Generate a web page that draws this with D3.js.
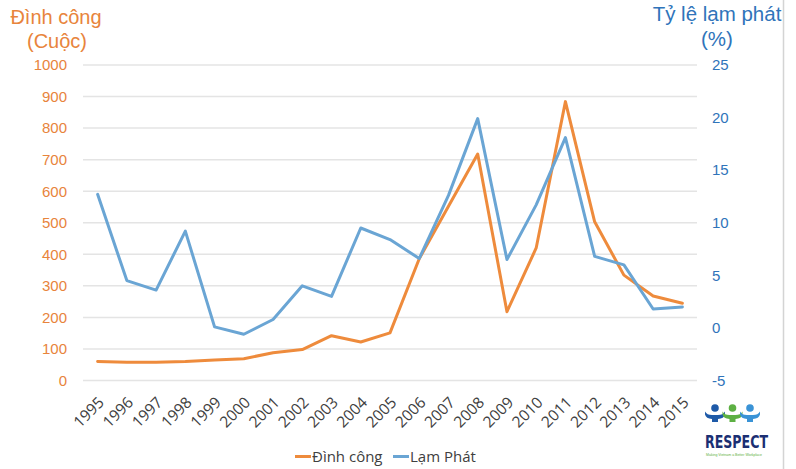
<!DOCTYPE html>
<html>
<head>
<meta charset="utf-8">
<script src="https://cdn.jsdelivr.net/npm/d3@7"></script>
<style>
  html, body { margin: 0; padding: 0; background: #fff; }
  svg { display: block; }
</style>
</head>
<body>
<svg id="chart" width="796" height="469"></svg>
<script>
// Strikes in Vietnam vs. annual inflation, 1995–2015
const years = ["1995","1996","1997","1998","1999","2000","2001","2002","2003","2004",
               "2005","2006","2007","2008","2009","2010","2011","2012","2013","2014","2015"];
const strikes = [60, 58, 58, 60, 65, 69, 88, 98, 142, 122,
                 151, 386, 552, 718, 218, 420, 884, 503, 334, 268, 245];
const inflation = [12.7, 4.5, 3.6, 9.2, 0.1, -0.6, 0.8, 4.0, 3.0, 9.5,
                   8.4, 6.6, 12.6, 19.9, 6.5, 11.7, 18.1, 6.8, 6.0, 1.8, 2.0];
const leftTicks = [0, 100, 200, 300, 400, 500, 600, 700, 800, 900, 1000];
const rightTicks = [-5, 0, 5, 10, 15, 20, 25];
const seriesNames = ["Đình công", "Lạm Phát"];

const ORANGE = "#EE8B3C";
const BLUE = "#6AA5D4";
const LEFT_TXT = "#E8843C";
const RIGHT_TXT = "#2F74BA";
const GRAY_TXT = "#404040";
const SANS = "'Liberation Sans', Arial, Helvetica, sans-serif";
const BODY = "'Open Sans', 'Noto Sans', sans-serif";

const svg = d3.select("#chart");

const plot = { left: 83, right: 697, top: 65, bottom: 380.5 };

const x = d3.scalePoint().domain(years).range([plot.left, plot.right]).padding(0.5);
const yL = d3.scaleLinear().domain([0, 1000]).range([plot.bottom, plot.top]);
const yR = d3.scaleLinear().domain([-5, 25]).range([plot.bottom, plot.top]);

// plain integer labels with an ASCII hyphen for negatives
const intFmt = d => String(d);

// frame edge on the right
svg.append("line")
  .attr("x1", 783.5).attr("x2", 783.5).attr("y1", 0).attr("y2", 469)
  .attr("stroke", "#d4d4d4").attr("stroke-width", 1.5);

// horizontal gridlines from the primary axis
svg.append("g").selectAll("line").data(leftTicks).join("line")
  .attr("x1", plot.left).attr("x2", plot.right)
  .attr("y1", d => yL(d)).attr("y2", d => yL(d))
  .attr("stroke", "#e4e4e4").attr("stroke-width", 1.5);

// left axis labels
const leftAxis = d3.axisLeft(yL).tickValues(leftTicks).tickFormat(intFmt).tickSize(0).tickPadding(0);
const gL = svg.append("g").attr("transform", "translate(67,0)").call(leftAxis);
gL.select(".domain").remove();
gL.selectAll("text").attr("fill", LEFT_TXT).style("font-family", SANS).style("font-size", "15px");

// right axis labels
const rightAxis = d3.axisRight(yR).tickValues(rightTicks).tickFormat(intFmt).tickSize(0).tickPadding(0);
const gR = svg.append("g").attr("transform", "translate(712,0)").call(rightAxis);
gR.select(".domain").remove();
gR.selectAll("text").attr("fill", RIGHT_TXT).style("font-family", SANS).style("font-size", "15px");

// category labels, rotated
const xAxis = d3.axisBottom(x).tickSize(0).tickPadding(0);
const gX = svg.append("g").attr("transform", `translate(0,${plot.bottom})`).call(xAxis);
gX.select(".domain").remove();
gX.selectAll("text")
  .attr("fill", GRAY_TXT)
  .style("font-family", BODY).style("font-size", "15.5px")
  .attr("text-anchor", "end")
  .attr("dy", null).attr("y", 0)
  .attr("transform", "translate(7,23) rotate(-45)");

// axis titles
const titleL = svg.append("g").attr("fill", LEFT_TXT)
  .style("font-family", SANS).style("font-size", "20px").attr("text-anchor", "middle");
titleL.append("text").attr("x", 56).attr("y", 24).text("Đình công");
titleL.append("text").attr("x", 57).attr("y", 48).text("(Cuộc)");

const titleR = svg.append("g").attr("fill", RIGHT_TXT)
  .style("font-family", SANS).style("font-size", "20.5px").attr("text-anchor", "middle");
titleR.append("text").attr("x", 717).attr("y", 21).text("Tỷ lệ lạm phát");
titleR.append("text").attr("x", 717).attr("y", 46).text("(%)");

// series lines
const lineL = d3.line().x((d, i) => x(years[i])).y(d => yL(d));
const lineR = d3.line().x((d, i) => x(years[i])).y(d => yR(d));

svg.append("path").datum(strikes)
  .attr("d", lineL).attr("fill", "none")
  .attr("stroke", ORANGE).attr("stroke-width", 3)
  .attr("stroke-linejoin", "round").attr("stroke-linecap", "round");

svg.append("path").datum(inflation)
  .attr("d", lineR).attr("fill", "none")
  .attr("stroke", BLUE).attr("stroke-width", 3)
  .attr("stroke-linejoin", "round").attr("stroke-linecap", "round");

// legend
const legend = svg.append("g").style("font-family", BODY).style("font-size", "15px").attr("fill", GRAY_TXT);
const legendItems = [
  { name: seriesNames[0], color: ORANGE, x: 295 },
  { name: seriesNames[1], color: BLUE, x: 393 }
];
legendItems.forEach(it => {
  legend.append("line").attr("x1", it.x).attr("x2", it.x + 16)
    .attr("y1", 456.5).attr("y2", 456.5).attr("stroke", it.color).attr("stroke-width", 3);
  legend.append("text").attr("x", it.x + 17).attr("y", 462).text(it.name);
});

// RESPECT logo: three figures with raised arms above the wordmark
const logo = svg.append("g").attr("transform", "translate(705,403)");
const figColors = ["#1E5AA8", "#5DB043", "#3A93D6"];
figColors.forEach((c, i) => {
  const cx = 10 + i * 17.5;
  logo.append("circle").attr("cx", cx).attr("cy", 5).attr("r", 3.8).attr("fill", c);
  logo.append("path")
    .attr("d", `M${cx - 10},8.5 Q${cx - 8},12 ${cx - 3},12 L${cx + 3},12 Q${cx + 8},12 ${cx + 10},8.5 L${cx + 10},11.5 Q${cx + 9},15.5 ${cx + 3},16 L${cx + 3},19 L${cx - 3},19 L${cx - 3},16 Q${cx - 9},15.5 ${cx - 10},11.5 Z`)
    .attr("fill", c);
});
logo.append("text").attr("x", 0).attr("y", 45)
  .attr("fill", "#1B2F73").style("font-family", "'DejaVu Sans', sans-serif")
  .style("font-size", "17px").style("font-weight", "bold")
  .attr("textLength", 63).attr("lengthAdjust", "spacingAndGlyphs").text("RESPECT");
logo.append("text").attr("x", 1).attr("y", 53)
  .attr("fill", "#5DB043").style("font-family", SANS).style("font-size", "4px")
  .attr("textLength", 56).attr("lengthAdjust", "spacingAndGlyphs")
  .text("Making Vietnam a Better Workplace");
</script>
</body>
</html>
